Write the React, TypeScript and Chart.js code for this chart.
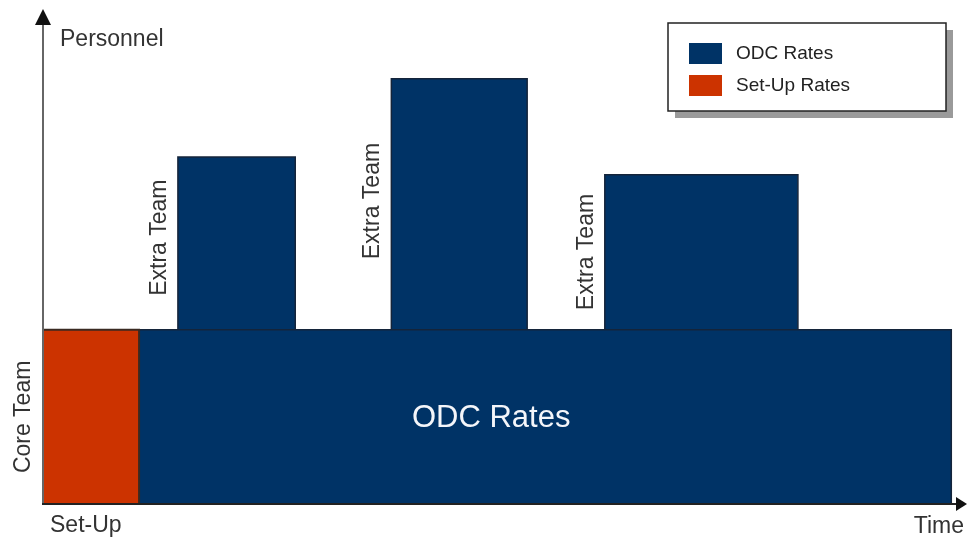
import React, { useEffect, useRef } from "react";
import { Chart, registerables } from "chart.js";

Chart.register(...registerables);

// ---- data (time units on x, personnel units on y) ----
const setUpRange = [0, 10.4];
const odcRange = [10.4, 98.3];
const coreTeamLevel = 35.2;
const extraTeamStart = [14.6, 37.7, 60.8];
const extraTeamEnd = [27.3, 52.4, 81.7];
const extraTeamLevel = [70.1, 85.9, 66.5];
const extraTeamLabelY = [53.8, 61.2, 50.9];
const legendLabels = ["ODC Rates", "Set-Up Rates"];
const axisLabels = { y: "Personnel", x: "Time", phase: "Set-Up", core: "Core Team", extra: "Extra Team", odc: "ODC Rates" };
const odcLabelPos = [48.5, 15.6];

const NAVY = "#003366";
const RED = "#cc3300";
const EDGE = "#14243a";
const FONT = '"Liberation Sans", Arial, sans-serif';

function rectPoints(x0: number, x1: number, y0: number, y1: number) {
  return [
    { x: x0, y: y0 },
    { x: x0, y: y1 },
    { x: x1, y: y1 },
    { x: x1, y: y0 },
  ];
}

const decorPlugin = {
  id: "decor",
  afterDatasetsDraw(chart: any) {
    const ctx = chart.ctx as CanvasRenderingContext2D;
    const xs = chart.scales.x;
    const ys = chart.scales.y;
    const { left, right, top, bottom } = chart.chartArea;
    ctx.save();

    // y axis
    ctx.strokeStyle = "#666";
    ctx.lineWidth = 2;
    ctx.beginPath();
    ctx.moveTo(left, bottom + 1);
    ctx.lineTo(left, top + 14);
    ctx.stroke();
    ctx.fillStyle = "#111";
    ctx.beginPath();
    ctx.moveTo(left, top);
    ctx.lineTo(left - 8, top + 16);
    ctx.lineTo(left + 8, top + 16);
    ctx.closePath();
    ctx.fill();

    // x axis
    ctx.strokeStyle = "#222";
    ctx.beginPath();
    ctx.moveTo(left - 1, bottom);
    ctx.lineTo(right - 9, bottom);
    ctx.stroke();
    ctx.beginPath();
    ctx.moveTo(right, bottom);
    ctx.lineTo(right - 11, bottom - 7);
    ctx.lineTo(right - 11, bottom + 7);
    ctx.closePath();
    ctx.fill();

    // axis texts
    ctx.fillStyle = "#333";
    ctx.font = `23px ${FONT}`;
    ctx.textBaseline = "alphabetic";
    ctx.textAlign = "left";
    ctx.fillText(axisLabels.y, left + 17, 46);
    ctx.fillText(axisLabels.phase, left + 7, bottom + 28);
    ctx.textAlign = "right";
    ctx.fillText(axisLabels.x, right - 3, bottom + 29);

    // Core Team (rotated)
    ctx.save();
    ctx.translate(left - 13, ys.getPixelForValue(coreTeamLevel / 2));
    ctx.rotate(-Math.PI / 2);
    ctx.textAlign = "center";
    ctx.fillText(axisLabels.core, 0, 0);
    ctx.restore();

    // Extra Team labels
    extraTeamStart.forEach((xs0, i) => {
      ctx.save();
      ctx.translate(xs.getPixelForValue(xs0) - 12, ys.getPixelForValue(extraTeamLabelY[i]));
      ctx.rotate(-Math.PI / 2);
      ctx.textAlign = "center";
      ctx.fillText(axisLabels.extra, 0, 0);
      ctx.restore();
    });

    // ODC Rates label
    ctx.fillStyle = "#f4f6fa";
    ctx.font = `31px ${FONT}`;
    ctx.textAlign = "center";
    ctx.fillText(axisLabels.odc, xs.getPixelForValue(odcLabelPos[0]), ys.getPixelForValue(odcLabelPos[1]));

    // legend box
    const lx = 668, ly = 23, lw = 278, lh = 88;
    ctx.fillStyle = "#9a9a9a";
    ctx.fillRect(lx + 7, ly + 7, lw, lh);
    ctx.fillStyle = "#fff";
    ctx.fillRect(lx, ly, lw, lh);
    ctx.strokeStyle = "#222";
    ctx.lineWidth = 1.5;
    ctx.strokeRect(lx, ly, lw, lh);
    const colors = [NAVY, RED];
    ctx.font = `19px ${FONT}`;
    ctx.textAlign = "left";
    ctx.textBaseline = "middle";
    legendLabels.forEach((lab, i) => {
      const cy = ly + 30 + i * 32;
      ctx.fillStyle = colors[i];
      ctx.fillRect(lx + 21, cy - 10, 33, 21);
      ctx.fillStyle = "#222";
      ctx.fillText(lab, lx + 68, cy + 1);
    });

    ctx.restore();
  },
};

export default function App() {
  const canvasRef = useRef<HTMLCanvasElement | null>(null);

  useEffect(() => {
    if (!canvasRef.current) return;
    const extraSets = extraTeamStart.map((x0, i) => ({
      label: "Extra Team",
      data: rectPoints(x0, extraTeamEnd[i], coreTeamLevel, extraTeamLevel[i]),
      backgroundColor: NAVY,
      borderColor: EDGE,
      borderWidth: 1.5,
      fill: "origin",
      pointRadius: 0,
      tension: 0,
      order: 3,
    }));
    const chart = new Chart(canvasRef.current, {
      type: "line",
      data: {
        datasets: [
          ...extraSets,
          {
            label: "ODC Rates",
            data: rectPoints(odcRange[0], odcRange[1], 0, coreTeamLevel),
            backgroundColor: NAVY,
            borderColor: EDGE,
            borderWidth: 1.5,
            fill: "origin",
            pointRadius: 0,
            tension: 0,
            order: 2,
          },
          {
            label: "Set-Up Rates",
            data: rectPoints(setUpRange[0], setUpRange[1], 0, coreTeamLevel),
            backgroundColor: RED,
            borderColor: "#3a2a22",
            borderWidth: 2,
            fill: "origin",
            pointRadius: 0,
            tension: 0,
            order: 1,
          },
        ] as any,
      },
      options: {
        animation: false,
        responsive: false,
        events: [],
        layout: { padding: { left: 43, right: 1, top: 9, bottom: 33 } },
        scales: {
          x: { type: "linear", min: 0, max: 100, display: false },
          y: { type: "linear", min: 0, max: 100, display: false },
        },
        plugins: {
          legend: { display: false },
          tooltip: { enabled: false },
        },
      },
      plugins: [decorPlugin],
    });
    return () => chart.destroy();
  }, []);

  return (
    <div style={{ position: "fixed", left: 0, top: 0, width: 968, height: 537, background: "#fff" }}>
      <canvas ref={canvasRef} width={968} height={537} />
    </div>
  );
}
